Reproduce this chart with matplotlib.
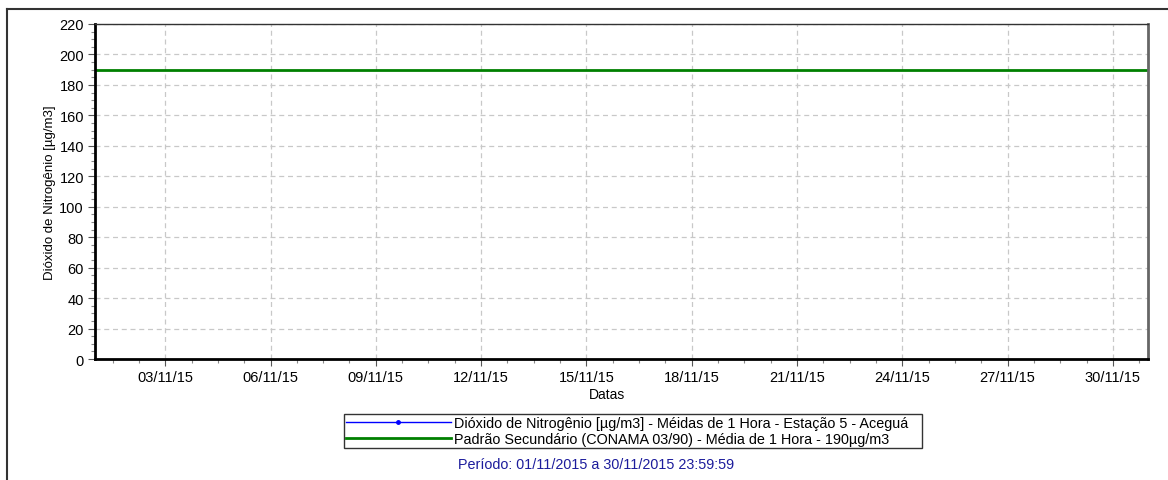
import datetime as dt
import numpy as np
import matplotlib
matplotlib.use('Agg')
import matplotlib.pyplot as plt
import matplotlib.dates as mdates
from matplotlib.ticker import MultipleLocator, FixedLocator
from matplotlib.lines import Line2D

plt.rcParams['font.family'] = ['Liberation Sans', 'DejaVu Sans']

# data
inicio = dt.datetime(2015, 11, 1)
fim = dt.datetime(2015, 12, 1)
no2_datas = []      # sem medicoes no periodo
no2_valores = []
padrao_valor = 190
padrao_datas = [inicio, fim]
y_ticks = list(range(0, 221, 20))

serie_label = 'Dióxido de Nitrogênio [µg/m3] - Méidas de 1 Hora - Estação 5 - Aceguá'
padrao_label = 'Padrão Secundário (CONAMA 03/90) - Média de 1 Hora - 190µg/m3'
periodo = 'Período: 01/11/2015 a 30/11/2015 23:59:59'

fig = plt.figure(figsize=(11.68, 4.81), dpi=100)
ax = fig.add_axes([95/1168, 1-360/481, (1148-95)/1168, (360-25)/481])

ax.plot(no2_datas, no2_valores, color='#0000ff', lw=1, marker='.', ms=5)
ax.plot(padrao_datas, [padrao_valor]*2, color='#008000', lw=2)

ax.set_xlim(inicio, fim)
ax.set_ylim(0, 220)
ax.set_yticks(y_ticks)
ax.yaxis.set_minor_locator(MultipleLocator(5))

ax.xaxis.set_major_locator(mdates.DayLocator(bymonthday=range(3, 31, 3)))
ax.xaxis.set_major_formatter(mdates.DateFormatter('%d/%m/%y'))
majors = mdates.date2num([dt.datetime(2015, 11, d) for d in range(3, 31, 3)])
minors = sorted(set(np.round(np.concatenate([majors + k*0.75 for k in range(-2, 5)]), 4)))
minors = [m for m in minors if mdates.date2num(inicio) < m < mdates.date2num(fim)]
ax.xaxis.set_minor_locator(FixedLocator(minors))

ax.grid(True, which='major', color='#c8c8c8', ls=(0, (4, 3)), lw=0.9)
ax.tick_params(which='major', direction='out', length=5, width=0.8, color='#555555',
               labelsize=10.5, pad=3)
ax.tick_params(which='minor', direction='out', length=3, width=0.8, color='#888888')

for s in ['left', 'bottom']:
    ax.spines[s].set_linewidth(2)
    ax.spines[s].set_color('black')
ax.spines['top'].set_linewidth(1)
ax.spines['top'].set_color('#333333')
ax.spines['right'].set_linewidth(2)
ax.spines['right'].set_color('#666666')

ax.set_xlabel('Datas', fontsize=10)
ax.xaxis.set_label_coords(0.486, -0.085)
ax.set_ylabel('Dióxido de Nitrogênio [µg/m3]', fontsize=9.5)
ax.yaxis.set_label_coords(-0.037, 0.5)

handles = [Line2D([], [], color='#0000ff', lw=1, marker='.', ms=5),
           Line2D([], [], color='#008000', lw=2)]
leg = fig.legend(handles, [serie_label + '   ', padrao_label], loc='upper center',
                 bbox_to_anchor=(633/1168, 1-415/481), fontsize=10.4, frameon=True,
                 fancybox=False, numpoints=1, handlelength=7.3, handletextpad=0.2,
                 labelspacing=0.1, borderpad=0.15, borderaxespad=0)
leg.get_frame().set_edgecolor('black')
leg.get_frame().set_linewidth(1)

fig.text(596/1168, 1-465/481, periodo, ha='center', va='center', fontsize=10.4, color='#1c1c9c')

# moldura externa
fig.add_artist(Line2D([7/1168, 7/1168], [0, 1-10/481], color='#333333', lw=1.5))
fig.add_artist(Line2D([7/1168, 1], [1-10/481, 1-10/481], color='#333333', lw=1.5))

fig.savefig('out.png', dpi=100)
